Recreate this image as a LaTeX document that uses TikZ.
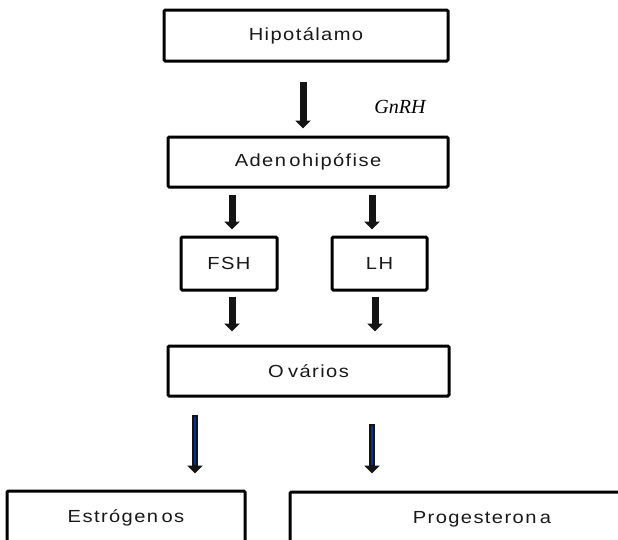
\documentclass[tikz,border=0pt]{standalone}
\usepackage{fontspec}
\setmainfont{Liberation Sans}[FakeStretch=1.15,LetterSpace=8]
\newfontfamily\gnfont{Liberation Serif}
\usetikzlibrary{arrows.meta}
\begin{document}
\begin{tikzpicture}[x=1pt,y=-1pt,
  box/.style={draw=black, line width=3pt, rounded corners=1.2pt, fill=white, inner sep=0pt,
    font=\fontsize{17.5}{20}\selectfont, text=black!90},
  barrow/.style={line width=7pt, draw=black!92, -{Triangle[width=15pt,length=8pt]}},
  blarrow/.style={line width=6.5pt, draw=black!92, -{Triangle[width=15pt,length=8pt]}},
  bline/.style={line width=1.4pt, draw=blue!45!black!80!cyan},
  lbl/.style={font=\gnfont\itshape\fontsize{20}{22}\selectfont, inner sep=0pt}
]
\useasboundingbox (0,0) rectangle (618,539);
\clip (0,0) rectangle (618,539);
\fill[white] (0,0) rectangle (618,539);

\node[box, minimum width=284pt, minimum height=51pt] (hip) at (306,35.5) {Hipotálamo};
\node[box, minimum width=280pt, minimum height=50pt] (aden) at (308,162) {Aden\kern0.2em ohipófise};
\node[box, minimum width=96pt, minimum height=53pt] (fsh) at (229,263.5) {FSH};
\node[box, minimum width=95pt, minimum height=53pt] (lh) at (379.5,263.5) {LH};
\node[box, minimum width=281pt, minimum height=50pt] (ov) at (308.5,371) {O\kern0.25em vários};
\node[box, minimum width=238pt, minimum height=54pt] (est) at (126,518) {Estrógen\kern0.2em os};
\node[box, minimum width=384pt, minimum height=54pt] (prog) at (482,519) {Progesteron\kern0.2em a};
\node[lbl] (gnrh) at (400,107) {GnRH};

% arrows
\draw[barrow, shorten <=19pt, shorten >=7pt] ([xshift=-3pt]hip.south) -- ([xshift=-3pt]hip.south |- aden.north);
\draw[barrow, shorten <=6pt, shorten >=6pt] ([xshift=3pt]fsh.north |- aden.south) -- ([xshift=3pt]fsh.north);
\draw[barrow, shorten <=6pt, shorten >=6pt] ([xshift=-7.5pt]lh.north |- aden.south) -- ([xshift=-7.5pt]lh.north);
\draw[barrow, shorten <=5pt, shorten >=13pt] ([xshift=3pt]fsh.south) -- ([xshift=3pt]fsh.south |- ov.north);
\draw[barrow, shorten <=5pt, shorten >=13pt] ([xshift=-4.5pt]lh.south) -- ([xshift=-4.5pt]lh.south |- ov.north);

\coordinate (ea) at (195,0);
\coordinate (pa) at (372,0);
\draw[blarrow, shorten <=17pt, shorten >=16pt] (ea |- ov.south) -- (ea |- est.north);
\draw[bline, shorten <=19pt, shorten >=25pt] (ea |- ov.south) -- (ea |- est.north);
\draw[blarrow, shorten <=26pt, shorten >=17pt] (pa |- ov.south) -- (pa |- prog.north);
\draw[bline, shorten <=28pt, shorten >=26pt] (pa |- ov.south) -- (pa |- prog.north);
\end{tikzpicture}
\end{document}
